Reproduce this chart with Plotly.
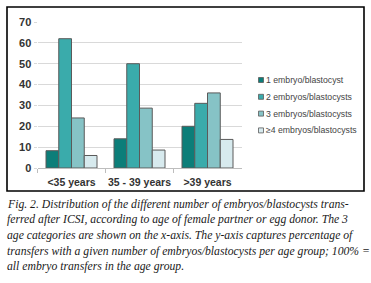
import plotly.graph_objects as go

categories = ["<35 years", "35 - 39 years", ">39 years"]
series_names = ["1 embryo/blastocyst", "2 embryos/blastocysts",
                "3 embryos/blastocysts", "≥4 embryos/blastocysts"]
one_embryo = [8.3, 14, 20]
two_embryos = [62, 50, 31]
three_embryos = [24, 28.7, 36]
four_plus = [6, 8.6, 13.7]
y_ticks = [0, 10, 20, 30, 40, 50, 60, 70]
caption_lines = [
    "Fig. 2. Distribution of the different number of embryos/blastocysts trans-",
    "ferred after ICSI, according to age of female partner or egg donor. The 3",
    "age categories are shown on the x-axis. The y-axis captures percentage of",
    "transfers with a given number of embryos/blastocysts per age group; 100% =",
    "all embryo transfers in the age group.",
]

colors = ["#0c7e79", "#3aabab", "#86c3c6", "#d7eaee"]
series_values = [one_embryo, two_embryos, three_embryos, four_plus]

W, H = 371, 283
fig = go.Figure()
for name, vals, col in zip(series_names, series_values, colors):
    fig.add_trace(go.Bar(
        x=categories, y=vals, name=name,
        marker=dict(color=col, line=dict(color="#5a5a5a", width=1)),
        showlegend=False,
    ))

def px_x(p):
    return p / W

def px_y(p):
    return 1 - p / H

fig.update_layout(
    template="none",
    width=W, height=H, autosize=False,
    margin=dict(l=0, r=0, t=0, b=0, pad=0),
    paper_bgcolor="white", plot_bgcolor="white",
    barmode="group", bargap=0.25, bargroupgap=0,
    font=dict(family="Arial, Liberation Sans, sans-serif", color="#333"),
    xaxis=dict(
        domain=[px_x(37.5), px_x(241.5)], automargin=False,
        showgrid=False, showline=True, linecolor="#bdbdbd", linewidth=1,
        ticks="outside", ticklen=4, tickcolor="#bdbdbd", tickson="boundaries",
        tickangle=0, ticklabelstandoff=4,
        tickfont=dict(size=10.5, family="Arial, sans-serif", color="#333", weight="bold"),
        fixedrange=True,
    ),
    yaxis=dict(
        domain=[px_y(168), px_y(22)], automargin=False,
        range=[0, 70], tickvals=y_ticks,
        showgrid=True, gridcolor="#d9d9d9", gridwidth=1,
        zeroline=False, showline=False,
        ticks="outside", ticklen=3, tickcolor="#d9d9d9",
        tickfont=dict(size=11, family="Arial, sans-serif", color="#333", weight="bold"),
        fixedrange=True,
    ),
)

shapes = [dict(type="rect", xref="paper", yref="paper",
               x0=px_x(7), x1=px_x(364), y0=px_y(191), y1=px_y(7),
               line=dict(color="black", width=1.6), fillcolor="rgba(0,0,0,0)")]
annotations = []
for i, (name, col) in enumerate(zip(series_names, colors)):
    yc = 80 + i * 16.8
    shapes.append(dict(type="rect", xref="paper", yref="paper",
                       x0=px_x(258.5), x1=px_x(263.5),
                       y0=px_y(yc + 2.5), y1=px_y(yc - 2.5),
                       fillcolor=col, line=dict(color="#5a5a5a", width=0.8)))
    annotations.append(dict(xref="paper", yref="paper", x=px_x(264), y=px_y(yc),
                            xanchor="left", yanchor="middle", showarrow=False,
                            text=name, font=dict(size=8.7, color="#444",
                                                 family="Arial, sans-serif")))
for i, line in enumerate(caption_lines):
    yc = 204 + i * 15.7
    annotations.append(dict(xref="paper", yref="paper", x=px_x(5), y=px_y(yc),
                            xanchor="left", yanchor="middle", showarrow=False,
                            text="<i>" + line + "</i>",
                            font=dict(size=11.7, color="#1a1a1a",
                                      family="Liberation Serif, serif")))
fig.update_layout(shapes=shapes, annotations=annotations)

fig.write_html("out.html", config={"displayModeBar": False},
               post_script="document.body.style.margin='0px';document.body.style.overflow='hidden';")
